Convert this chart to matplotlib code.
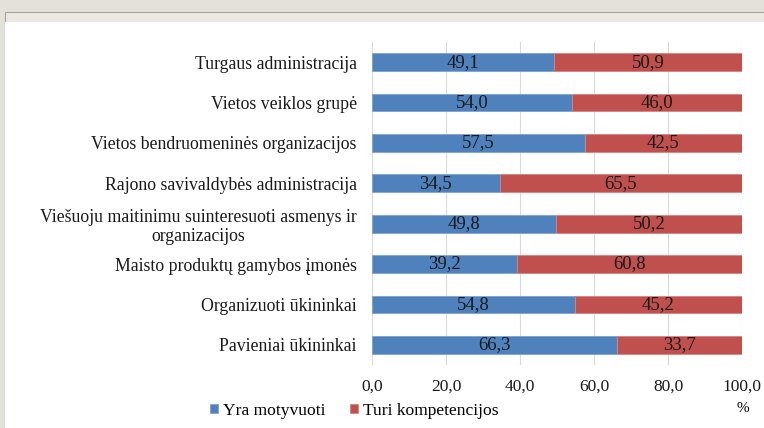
import matplotlib.pyplot as plt
from matplotlib.patches import Rectangle
from matplotlib.font_manager import FontProperties

categories = [
    'Turgaus administracija',
    'Vietos veiklos grupė',
    'Vietos bendruomeninės organizacijos',
    'Rajono savivaldybės administracija',
    'Viešuoju maitinimu suinteresuoti asmenys ir\norganizacijos',
    'Maisto produktų gamybos įmonės',
    'Organizuoti ūkininkai',
    'Pavieniai ūkininkai',
]
motyvuoti = [49.1, 54.0, 57.5, 34.5, 49.8, 39.2, 54.8, 66.3]
kompetencijos = [50.9, 46.0, 42.5, 65.5, 50.2, 60.8, 45.2, 33.7]
xticks = [0, 20, 40, 60, 80, 100]

serif = ['Liberation Serif', 'DejaVu Serif']
plt.rcParams['font.family'] = serif
plt.rcParams['font.size'] = 12

fig = plt.figure(figsize=(7.64, 4.28), dpi=100, facecolor='#e4e0da')
# white panel with a thin frame
fig.patches.append(Rectangle((5 / 764, 0), 1, 1 - 12 / 428, transform=fig.transFigure,
                             facecolor='#ebe8e3', edgecolor='#a8a49c', linewidth=0.8, zorder=-3))
fig.patches.append(Rectangle((5 / 764, 0), 1, 1 - 22 / 428, transform=fig.transFigure,
                             facecolor='white', edgecolor='none', zorder=-2))

ax = fig.add_axes([372 / 764, 1 - 365 / 428, 370 / 764, 323 / 428])
ax.set_zorder(1)
ax.set_facecolor('white')

y = list(range(len(categories)))
b1 = ax.barh(y, motyvuoti, height=0.44, color='#4f81bd', edgecolor='#7fa3d4',
             linewidth=0.6, label='Yra motyvuoti', zorder=2)
b2 = ax.barh(y, kompetencijos, left=motyvuoti, height=0.44, color='#c0504d',
             edgecolor='#d78482', linewidth=0.6, label='Turi kompetencijos', zorder=2)

for i in y:
    ax.text(motyvuoti[i] / 2, i, f'{motyvuoti[i]:.1f}'.replace('.', ','),
            ha='center', va='center', fontsize=13.5, color='#1a1a1a', zorder=3)
    ax.text(motyvuoti[i] + kompetencijos[i] / 2, i,
            f'{kompetencijos[i]:.1f}'.replace('.', ','),
            ha='center', va='center', fontsize=13.5, color='#1a1a1a', zorder=3)

ax.set_ylim(len(categories) - 0.5, -0.5)
ax.set_xlim(0, 100)
ax.set_yticks(y)
ax.set_yticklabels(categories, linespacing=1.15, multialignment='center', fontsize=12.8)
ax.set_xticks(xticks)
ax.set_xticklabels([f'{v:.1f}'.replace('.', ',') for v in xticks], fontsize=12.5)
ax.tick_params(axis='both', length=0, colors='#1a1a1a')
ax.tick_params(axis='x', pad=10)
ax.tick_params(axis='y', pad=11)
ax.grid(axis='x', color='#d9d9d9', linewidth=0.8, zorder=0)
for s in ax.spines.values():
    s.set_visible(False)

leg_font = FontProperties(family='Liberation Serif', size=12.6)
leg = fig.legend(handles=[b1, b2], loc='center left', bbox_to_anchor=(194 / 764, 1 - 411 / 428),
                 ncol=2, frameon=False, handlelength=0.45, handleheight=0.45,
                 handletextpad=0.3, columnspacing=1.4, prop=leg_font)
fig.text(743 / 764, 1 - 408 / 428, '%', ha='center', va='center', fontsize=11)

plt.savefig('out.png', dpi=100, facecolor=fig.get_facecolor())
